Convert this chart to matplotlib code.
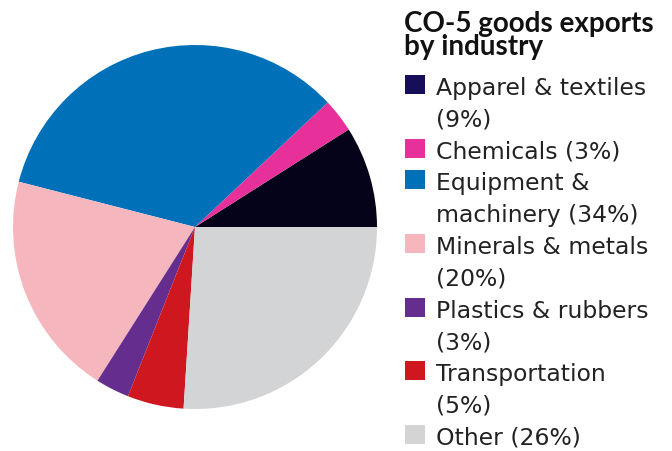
import matplotlib
matplotlib.use("Agg")
import matplotlib.pyplot as plt
import matplotlib.patches as mpatches

# data
labels = ["Apparel & textiles\n(9%)", "Chemicals (3%)", "Equipment &\nmachinery (34%)",
          "Minerals & metals\n(20%)", "Plastics & rubbers\n(3%)", "Transportation\n(5%)",
          "Other (26%)"]
shares = [9, 3, 34, 20, 3, 5, 26]
colors = ["#04031a", "#e8309a", "#0071b9", "#f6b6bd", "#652d8e", "#cf1720", "#d3d4d6"]
swatch_colors = ["#170e5a", "#e8309a", "#0071b9", "#f6b6bd", "#652d8e", "#cf1720", "#d3d4d6"]
title = "CO-5 goods exports\nby industry"

W, H = 672, 452
fig = plt.figure(figsize=(W / 100, H / 100), dpi=100)

# pie: centre ~(195,228) px, radius ~182 px
cx, cy, r = 195, 228, 182
ax = fig.add_axes([(cx - r) / W, (H - cy - r) / H, 2 * r / W, 2 * r / H])
ax.pie(shares, colors=colors, startangle=0, counterclock=True,
       wedgeprops=dict(linewidth=0))
ax.set_xlim(-1, 1)
ax.set_ylim(-1, 1)
ax.set_aspect("equal")
ax.axis("off")

title_font = "Lato"
font = "DejaVu Sans"

def fx(px):
    return px / W

def fy(py):
    return (H - py) / H

# legend title (one text, tight line spacing)
fig.text(fx(404), fy(55), title, fontsize=20, fontweight="bold", linespacing=0.87,
         family=title_font, va="baseline", ha="left", color="#111111")

# legend entries
base = 95
step = 31.8
line = 0
for lab, col in zip(labels, swatch_colors):
    y0 = base + line * step
    sw = mpatches.Rectangle((fx(405), fy(y0)), 20 / W, 19 / H, transform=fig.transFigure,
                            facecolor=col, edgecolor="none")
    fig.patches.append(sw)
    for part in lab.split("\n"):
        fig.text(fx(436), fy(base + line * step), part, fontsize=16.9, family=font,
                 va="baseline", ha="left", color="#222222")
        line += 1

fig.savefig("out.png", dpi=100)
